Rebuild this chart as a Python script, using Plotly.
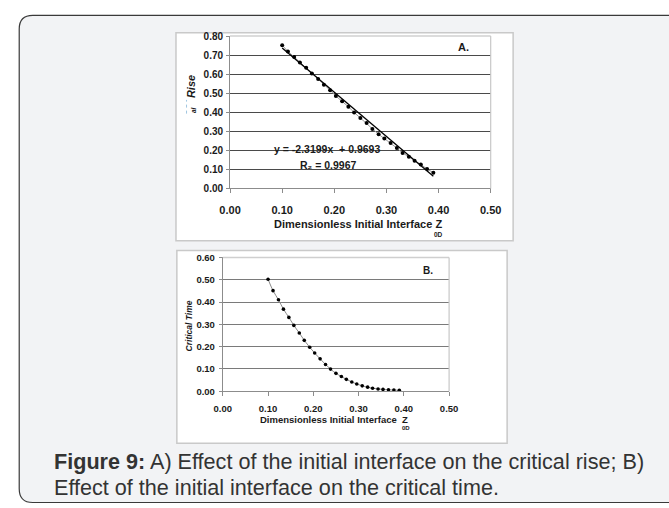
import plotly.graph_objects as go

W, H = 669, 508

# ---------------- data ----------------
z0d = [0.100, 0.111, 0.123, 0.134, 0.146, 0.157, 0.169, 0.180, 0.192, 0.203,
       0.215, 0.227, 0.238, 0.250, 0.262, 0.273, 0.285, 0.296, 0.308, 0.320,
       0.331, 0.343, 0.354, 0.366, 0.378, 0.390]
critical_rise = [0.752, 0.719, 0.690, 0.661, 0.633, 0.604, 0.575, 0.544, 0.515, 0.485,
                 0.458, 0.429, 0.399, 0.370, 0.343, 0.312, 0.284, 0.262, 0.239, 0.212,
                 0.186, 0.167, 0.145, 0.126, 0.102, 0.083]
critical_time = [0.502, 0.451, 0.410, 0.368, 0.331, 0.295, 0.261, 0.228, 0.197, 0.171,
                 0.145, 0.120, 0.099, 0.080, 0.066, 0.053, 0.041, 0.032, 0.024, 0.018,
                 0.013, 0.010, 0.008, 0.006, 0.005, 0.004]
trend_slope = -2.3199
trend_intercept = 0.9693
trend_x = [0.10, 0.39]
x_ticks = [0.0, 0.1, 0.2, 0.3, 0.4, 0.5]
rise_ticks = [0.0, 0.1, 0.2, 0.3, 0.4, 0.5, 0.6, 0.7, 0.8]
time_ticks = [0.0, 0.1, 0.2, 0.3, 0.4, 0.5, 0.6]
equation_text = "y = -2.3199x  + 0.9693"
r2_text = "R₂ = 0.9967"
caption_line1 = "<b>Figure 9:</b> A) Effect of the initial interface on the critical rise; B)"
caption_line2 = "Effect of the initial interface on the critical time."

trend_y = [trend_slope * v + trend_intercept for v in trend_x]


def px(v):
    return v / W


def py(v):
    return 1 - v / H


FONT = "Liberation Sans, Arial, sans-serif"
TXT = "#1a1a1a"

fig = go.Figure()

# Panel A
fig.add_trace(go.Scatter(x=z0d, y=critical_rise, mode="lines+markers",
                         line=dict(color="#9a9a9a", width=1),
                         marker=dict(color="black", size=4, symbol="circle"),
                         xaxis="x", yaxis="y", showlegend=False))
fig.add_trace(go.Scatter(x=trend_x, y=trend_y, mode="lines",
                         line=dict(color="black", width=1.3),
                         xaxis="x", yaxis="y", showlegend=False))
# Panel B
fig.add_trace(go.Scatter(x=z0d, y=critical_time, mode="lines+markers",
                         line=dict(color="#8a8a8a", width=1, shape="spline"),
                         marker=dict(color="black", size=3.6, symbol="circle"),
                         xaxis="x2", yaxis="y2", showlegend=False))

axis_common = dict(showline=True, linecolor="#8c8c8c", linewidth=1, ticks="outside",
                   tickcolor="#8c8c8c", zeroline=False, tickformat=".2f",
                   fixedrange=True)

fig.update_layout(
    width=W, height=H,
    margin=dict(l=0, r=0, t=0, b=0),
    paper_bgcolor="white",
    plot_bgcolor="white",
    font=dict(family=FONT, color=TXT),
    xaxis=dict(domain=[px(226.5), px(496)], anchor="y", range=[0, 0.5],
               tickvals=x_ticks, showgrid=False, ticklen=4,
               ticklabelstandoff=7,
               tickfont=dict(size=11, family=FONT, color=TXT, weight="bold"),
               **axis_common),
    yaxis=dict(domain=[py(186.5), py(30.7)], anchor="x", range=[0, 0.8],
               tickvals=rise_ticks, showgrid=True, gridcolor="#4a4a4a", gridwidth=1.3,
               ticklen=3, ticklabelstandoff=1,
               tickfont=dict(size=10, family=FONT, color=TXT, weight="bold"),
               **axis_common),
    xaxis2=dict(domain=[px(219), px(453)], anchor="y2", range=[0, 0.5],
                tickvals=x_ticks, showgrid=False, ticklen=4,
                ticklabelstandoff=4,
                tickfont=dict(size=9.5, family=FONT, color=TXT, weight="bold"),
                **axis_common),
    yaxis2=dict(domain=[py(393.7), py(257)], anchor="x2", range=[0, 0.6],
                tickvals=time_ticks, showgrid=True, gridcolor="#7a7a7a", gridwidth=1.3,
                ticklen=3, ticklabelstandoff=2,
                tickfont=dict(size=9.5, family=FONT, color=TXT, weight="bold"),
                **axis_common),
)

# --------------- shapes (frame, panels, plot borders) ---------------
r = 14
L, T, R, B = 8.5, 9.5, 690, 507.5
path = (f"M {px(L)},{py(T + r)} Q {px(L)},{py(T)} {px(L + r)},{py(T)} "
        f"L {px(R)},{py(T)} L {px(R)},{py(B)} L {px(L + r)},{py(B)} "
        f"Q {px(L)},{py(B)} {px(L)},{py(B - r)} Z")
shapes = [
    dict(type="path", xref="paper", yref="paper", path=path,
         fillcolor="#f2f3f5", line=dict(color="#3a3a3a", width=1.2), layer="below"),
    dict(type="rect", xref="paper", yref="paper", x0=px(170.6), x1=px(519.2),
         y0=py(240), y1=py(27.3), fillcolor="white",
         line=dict(color="#c9c9c9", width=1.5), layer="below"),
    dict(type="rect", xref="paper", yref="paper", x0=px(171.5), x1=px(513),
         y0=py(447), y1=py(250), fillcolor="white",
         line=dict(color="#c9c9c9", width=1.5), layer="below"),
    # plot-area top/right borders
    dict(type="line", xref="x domain", yref="y domain", x0=0, x1=1, y0=1, y1=1,
         line=dict(color="#d0d0d0", width=1.6)),
    dict(type="line", xref="x domain", yref="y domain", x0=1, x1=1, y0=0, y1=1,
         line=dict(color="#c8c8c8", width=1.2)),
    dict(type="line", xref="x2 domain", yref="y2 domain", x0=0, x1=1, y0=1, y1=1,
         line=dict(color="#cfcfcf", width=1.6)),
    dict(type="line", xref="x2 domain", yref="y2 domain", x0=1, x1=1, y0=0, y1=1,
         line=dict(color="#c8c8c8", width=1.2)),
    # faint dotted mark near A y-title
    dict(type="line", xref="paper", yref="paper", x0=px(181.5), x1=px(181.5),
         y0=py(110), y1=py(96), line=dict(color="#9fc6e0", width=1, dash="dot")),
]
fig.update_layout(shapes=shapes)

# --------------- annotations ---------------
def ann(text, x, y, size, bold=True, italic=False, angle=0, xanchor="center",
        color=TXT, family=FONT):
    t = text
    if italic:
        t = f"<i>{t}</i>"
    if bold:
        t = f"<b>{t}</b>"
    return dict(text=t, x=px(x), y=py(y), xref="paper", yref="paper",
                showarrow=False, xanchor=xanchor, yanchor="middle",
                textangle=angle, font=dict(size=size, color=color, family=family))


annotations = [
    ann("A.", 468, 42, 11),
    ann("B.", 431, 270, 10),
    ann(equation_text, 327, 146.5, 10.5),
    ann(r2_text, 327.5, 163, 10.5),
    ann("Dimensionless Initial Interface Z", 359, 223, 11),
    ann("0D", 442, 233.5, 6.5),
    ann("Dimensionless Initial Interface\u00a0\u00a0Z", 333.5, 422.5, 9.5),
    ann("0D", 408.5, 431.5, 6),
    ann("Rise", 186, 82, 11, italic=True, angle=-90),
    ann("al", 188.5, 106, 6.5, italic=True, angle=-90),
    ann("Critical Time", 183.5, 327, 8.5, italic=True, angle=-90),
    ann(caption_line1, 42.5, 465.5, 21.6, bold=False, xanchor="left", color="#333333"),
    ann(caption_line2, 42.5, 492.5, 21.6, bold=False, xanchor="left", color="#333333"),
]
fig.update_layout(annotations=annotations)

fig.write_html("out.html")
